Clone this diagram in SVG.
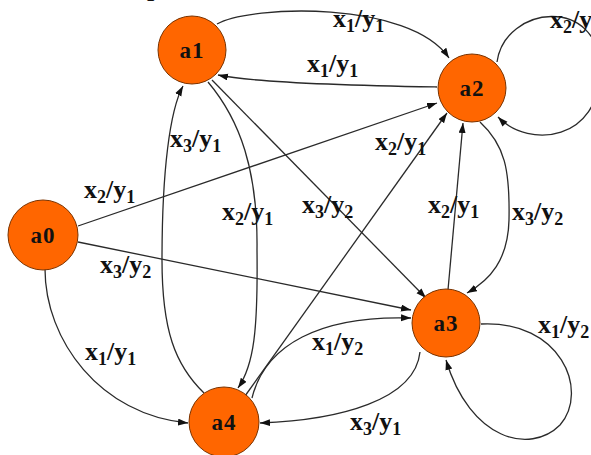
<svg xmlns="http://www.w3.org/2000/svg" width="591" height="455" viewBox="0 0 591 455">
<style>
.node circle{fill:#FF6600;stroke:#7A3300;stroke-width:1}
.node text{font-family:"Liberation Serif",serif;font-weight:bold;font-size:23px;fill:#111;text-anchor:middle;letter-spacing:1px}
.edges path{fill:none;stroke:#2a2a2a;stroke-width:1.3;marker-end:url(#arr)}
.lbl{font-family:"Liberation Serif",serif;font-weight:bold;font-size:26px;fill:#111}
.s{font-size:18px}
</style>
<defs>
<marker id="arr" markerUnits="userSpaceOnUse" markerWidth="11" markerHeight="8" refX="10" refY="3.5" orient="auto">
<path d="M0,0 L10,3.5 L0,7 z" fill="#111"/>
</marker>
</defs>
<rect width="591" height="455" fill="#fff"/>
<text class="lbl" x="147" y="-4" font-size="24">p</text>
<g class="edges" id="connectors">
<path d="M217,24 C250,5 410,0 449,58"/>
<path d="M437,87 C380,86 260,84 218,75"/>
<path d="M497,62 C505,5 600,-5 600,70 C600,140 530,150 498,117"/>
<path d="M78,226 L437,103"/>
<path d="M78,242 L411,310"/>
<path d="M45,269 C45,340 100,415 188,423"/>
<path d="M204,393 C175,365 162,330 162,260 C162,170 170,110 183,86"/>
<path d="M208,82 C240,120 258,170 257,250 C258,330 254,365 238,388"/>
<path d="M212,80 L426,298"/>
<path d="M245,396 L447,113"/>
<path d="M448,290 L463,123"/>
<path d="M480,122 C505,145 510,170 509,220 C508,260 490,280 467,293"/>
<path d="M252,398 C265,345 320,315 411,318"/>
<path d="M420,352 C415,400 340,420 260,423"/>
<path d="M481,324 C560,320 590,390 560,425 C530,455 470,440 446,360"/>
</g>
<g id="labels">
<text class="lbl" x="333" y="27">x<tspan class="s" dy="5">1</tspan><tspan dy="-5">/y</tspan><tspan class="s" dy="5">1</tspan></text>
<text class="lbl" x="307" y="72">x<tspan class="s" dy="5">1</tspan><tspan dy="-5">/y</tspan><tspan class="s" dy="5">1</tspan></text>
<text class="lbl" x="550" y="28">x<tspan class="s" dy="5">2</tspan><tspan dy="-5">/y</tspan><tspan class="s" dy="5">1</tspan></text>
<text class="lbl" x="84" y="198">x<tspan class="s" dy="5">2</tspan><tspan dy="-5">/y</tspan><tspan class="s" dy="5">1</tspan></text>
<text class="lbl" x="100" y="273">x<tspan class="s" dy="5">3</tspan><tspan dy="-5">/y</tspan><tspan class="s" dy="5">2</tspan></text>
<text class="lbl" x="85" y="360">x<tspan class="s" dy="5">1</tspan><tspan dy="-5">/y</tspan><tspan class="s" dy="5">1</tspan></text>
<text class="lbl" x="170" y="147">x<tspan class="s" dy="5">3</tspan><tspan dy="-5">/y</tspan><tspan class="s" dy="5">1</tspan></text>
<text class="lbl" x="222" y="220">x<tspan class="s" dy="5">2</tspan><tspan dy="-5">/y</tspan><tspan class="s" dy="5">1</tspan></text>
<text class="lbl" x="302" y="213">x<tspan class="s" dy="5">3</tspan><tspan dy="-5">/y</tspan><tspan class="s" dy="5">2</tspan></text>
<text class="lbl" x="375" y="150">x<tspan class="s" dy="5">2</tspan><tspan dy="-5">/y</tspan><tspan class="s" dy="5">1</tspan></text>
<text class="lbl" x="428" y="213">x<tspan class="s" dy="5">2</tspan><tspan dy="-5">/y</tspan><tspan class="s" dy="5">1</tspan></text>
<text class="lbl" x="512" y="220">x<tspan class="s" dy="5">3</tspan><tspan dy="-5">/y</tspan><tspan class="s" dy="5">2</tspan></text>
<text class="lbl" x="312" y="350">x<tspan class="s" dy="5">1</tspan><tspan dy="-5">/y</tspan><tspan class="s" dy="5">2</tspan></text>
<text class="lbl" x="350" y="430">x<tspan class="s" dy="5">3</tspan><tspan dy="-5">/y</tspan><tspan class="s" dy="5">1</tspan></text>
<text class="lbl" x="538" y="333">x<tspan class="s" dy="5">1</tspan><tspan dy="-5">/y</tspan><tspan class="s" dy="5">2</tspan></text>
</g>
<g class="node" id="a0"><circle cx="43" cy="235" r="35"/><text x="43" y="243">a0</text></g>
<g class="node" id="a1"><circle cx="192" cy="50" r="34"/><text x="192" y="58">a1</text></g>
<g class="node" id="a2"><circle cx="472" cy="88" r="34"/><text x="472" y="96">a2</text></g>
<g class="node" id="a3"><circle cx="446" cy="323" r="34"/><text x="446" y="331">a3</text></g>
<g class="node" id="a4"><circle cx="224" cy="422" r="35"/><text x="224" y="430">a4</text></g>
</svg>
